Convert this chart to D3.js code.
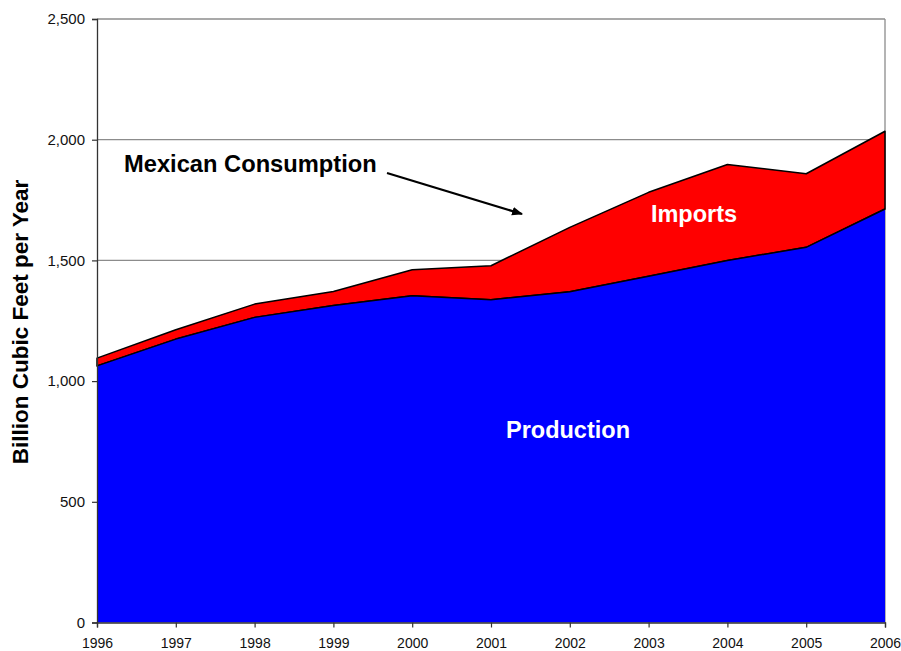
<!DOCTYPE html>
<html>
<head>
<meta charset="utf-8">
<script src="https://cdn.jsdelivr.net/npm/d3@7"></script>
<style>
  body { margin: 0; background: #fff; }
  text { font-family: "Liberation Sans", Arial, sans-serif; }
</style>
</head>
<body>
<svg id="chart" width="901" height="651"></svg>
<script>
// values (billion cubic feet per year)
const years = [1996, 1997, 1998, 1999, 2000, 2001, 2002, 2003, 2004, 2005, 2006]
const production = [1063, 1174, 1264, 1313, 1354, 1337, 1370, 1434, 1500, 1554, 1713]
const consumption = [1095, 1213, 1319, 1371, 1461, 1478, 1637, 1782, 1897, 1859, 2035]
const yTicks = [0, 500, 1000, 1500, 2000, 2500]

const margin = { top: 19, right: 16, bottom: 28, left: 97 }
const width = 901, height = 651

const svg = d3.select("#chart")

const x = d3.scaleLinear()
    .domain([1996, 2006])
    .range([margin.left, width - margin.right])

const y = d3.scaleLinear()
    .domain([0, 2500])
    .range([height - margin.bottom - 0.5, margin.top])

const rows = years.map((yr, i) => ({ year: yr, prod: production[i], total: consumption[i] }))

// gridlines
svg.append("g")
    .selectAll("line")
    .data(yTicks.filter(d => d > 0))
    .join("line")
    .attr("x1", x(1996)).attr("x2", x(2006))
    .attr("y1", d => y(d)).attr("y2", d => y(d))
    .attr("stroke", "#8c8c8c")
    .attr("stroke-width", 1.3)

// right border
svg.append("line")
    .attr("x1", x(2006)).attr("x2", x(2006))
    .attr("y1", y(2500)).attr("y2", y(0))
    .attr("stroke", "#8c8c8c")
    .attr("stroke-width", 1.3)

// imports band (between production and consumption)
svg.append("path")
    .datum(rows)
    .attr("fill", "#ff0000")
    .attr("stroke", "#000")
    .attr("stroke-width", 1.5)
    .attr("stroke-linejoin", "round")
    .attr("d", d3.area()
        .x(d => x(d.year))
        .y0(d => y(d.prod))
        .y1(d => y(d.total)))

// production area
svg.append("path")
    .datum(rows)
    .attr("fill", "#0000ff")
    .attr("d", d3.area()
        .x(d => x(d.year))
        .y0(y(0))
        .y1(d => y(d.prod)))

svg.append("path")
    .datum(rows)
    .attr("fill", "none")
    .attr("stroke", "#000")
    .attr("stroke-width", 1.5)
    .attr("d", d3.line()
        .x(d => x(d.year))
        .y(d => y(d.prod)))

// axes
const yAxis = svg.append("g")
    .attr("transform", `translate(${margin.left},0)`)
    .call(d3.axisLeft(y).tickValues(yTicks).tickFormat(d3.format(",")).tickSize(5).tickPadding(7))

const xAxis = svg.append("g")
    .attr("transform", `translate(0,${y(0)})`)
    .call(d3.axisBottom(x).tickValues(years).tickFormat(d3.format("d")).tickSize(5).tickPadding(11))

for (const g of [xAxis, yAxis]) {
    g.select(".domain").attr("stroke", "#333").attr("stroke-width", 1.3)
    g.selectAll(".tick line").attr("stroke", "#333").attr("stroke-width", 1.2)
    g.selectAll(".tick text")
        .attr("fill", "#111")
        .style("font-family", "'Liberation Sans', Arial, sans-serif")
}
yAxis.selectAll(".tick text").style("font-size", "15px")
xAxis.selectAll(".tick text").style("font-size", "14px")

// y title
svg.append("text")
    .attr("transform", "translate(28,322) rotate(-90)")
    .attr("text-anchor", "middle")
    .style("font-size", "22.5px")
    .style("font-weight", "bold")
    .text("Billion Cubic Feet per Year")

// annotations
svg.append("text")
    .attr("x", 124).attr("y", 172)
    .style("font-size", "23.7px")
    .style("font-weight", "bold")
    .text("Mexican Consumption")

svg.append("defs").append("marker")
    .attr("id", "arrow")
    .attr("viewBox", "0 0 10 10")
    .attr("refX", 9).attr("refY", 5)
    .attr("markerWidth", 5).attr("markerHeight", 5)
    .attr("orient", "auto")
    .append("path")
    .attr("d", "M0,1 L10,5 L0,9 Z")
    .attr("fill", "#000")

svg.append("line")
    .attr("x1", 387).attr("y1", 173)
    .attr("x2", 522).attr("y2", 214)
    .attr("stroke", "#000")
    .attr("stroke-width", 2.2)
    .attr("marker-end", "url(#arrow)")

svg.append("text")
    .attr("x", 694).attr("y", 222)
    .attr("text-anchor", "middle")
    .attr("fill", "#fff")
    .style("font-size", "23.5px")
    .style("font-weight", "bold")
    .text("Imports")

svg.append("text")
    .attr("x", 568).attr("y", 438)
    .attr("text-anchor", "middle")
    .attr("fill", "#fff")
    .style("font-size", "23.5px")
    .style("font-weight", "bold")
    .text("Production")
</script>
</body>
</html>
